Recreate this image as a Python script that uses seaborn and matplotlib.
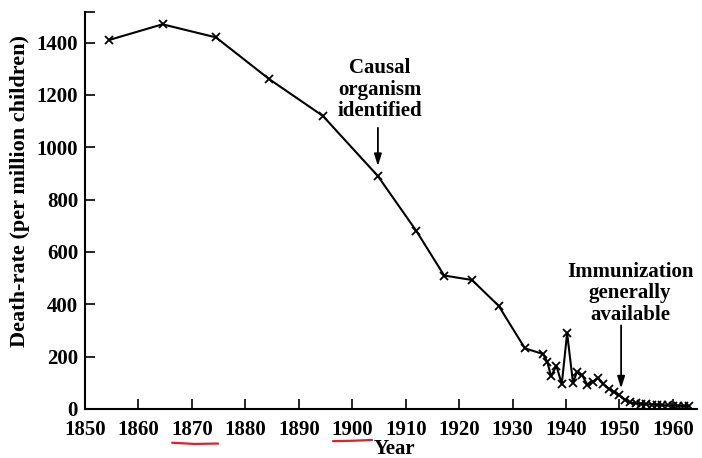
import matplotlib
matplotlib.use("Agg")
import matplotlib.pyplot as plt
import matplotlib.transforms as mtransforms
import seaborn as sns

# -----------------------------
# Data
# -----------------------------
years = [1854.5, 1864.5, 1874.5, 1884.5, 1894.5, 1904.8, 1912.0, 1917.2, 1922.4,
         1927.4, 1932.3, 1935.7, 1936.5, 1937.2, 1938.2, 1939.2, 1940.2, 1941.3,
         1942.0, 1943.0, 1944.0, 1945.0, 1946.0, 1947.0, 1948.0, 1949.0, 1950.0,
         1951.0, 1952.0, 1953.0, 1954.0, 1955.0, 1956.0, 1957.0, 1958.0, 1959.0,
         1960.0, 1961.0, 1962.0, 1963.0]
death_rate = [1410, 1470, 1420, 1260, 1120, 890, 680, 510, 493,
              394, 232, 210, 180, 125, 165, 95, 290, 100,
              140, 130, 92, 105, 118, 95, 78, 65, 52,
              36, 25, 22, 20, 18, 17, 16, 15, 14,
              13, 12, 12, 11]

x_ticks = [1850, 1860, 1870, 1880, 1890, 1900, 1910, 1920, 1930, 1940, 1950, 1960]
y_ticks = [0, 200, 400, 600, 800, 1000, 1200, 1400]

# -----------------------------
# Style
# -----------------------------
sns.set_style("ticks")
plt.rcParams["font.family"] = ["Liberation Serif", "DejaVu Serif"]
plt.rcParams["font.weight"] = "bold"
plt.rcParams["text.color"] = "black"
plt.rcParams["axes.labelcolor"] = "black"
plt.rcParams["axes.labelweight"] = "bold"

fig = plt.figure(figsize=(7.02, 4.58), dpi=100)
ax = fig.add_axes([85 / 702, 49 / 458, 612 / 702, 397 / 458])

sns.lineplot(x=years, y=death_rate, ax=ax, color="black", linewidth=1.5,
             marker="x", markersize=5.5, markeredgewidth=1.3, markeredgecolor="black")

ax.set_xlim(1850, 1964.5)
ax.set_ylim(0, 1517)
ax.set_xticks(x_ticks)
ax.set_yticks(y_ticks)
ax.set_yticks([1517], minor=True)
ax.tick_params(axis="both", which="both", direction="in", length=7, width=1.2,
               labelsize=15, color="black", labelcolor="black")
ax.tick_params(axis="x", pad=8)
ax.tick_params(axis="y", pad=5)

sns.despine(ax=ax)
for side in ["left", "bottom"]:
    ax.spines[side].set_linewidth(1.5)
    ax.spines[side].set_color("black")

ax.set_xlabel("Year", fontsize=15)
ax.xaxis.set_label_coords(0.505, -0.075)
ax.set_ylabel("Death-rate (per million children)", fontsize=16)
ax.yaxis.set_label_coords(-0.09, 0.55)

# -----------------------------
# Annotations
# -----------------------------
arrow = dict(arrowstyle="-|>,head_length=0.7,head_width=0.22", color="black", lw=1.3)
ax.annotate("", xy=(1904.8, 918), xytext=(1904.8, 1085), arrowprops=arrow)
ax.text(1905.2, 1340, "Causal\norganism\nidentified", ha="center", va="top",
        fontsize=15, linespacing=1.1)

ax.annotate("", xy=(1950.3, 68), xytext=(1950.3, 330), arrowprops=arrow)
ax.text(1952.0, 562, "Immunization\ngenerally\navailable", ha="center", va="top",
        fontsize=15, linespacing=1.1)

# red hand-drawn underlines below two tick labels
trans = mtransforms.blended_transform_factory(ax.transData, ax.transAxes)
ax.plot([1866.3, 1870.5, 1874.9], [-0.085, -0.088, -0.087], transform=trans,
        color="#e0202a", lw=1.6, clip_on=False, solid_capstyle="round")
ax.plot([1896.4, 1900.0, 1903.7], [-0.081, -0.080, -0.078], transform=trans,
        color="#e0202a", lw=1.6, clip_on=False, solid_capstyle="round")

fig.savefig("out.png", dpi=100)
